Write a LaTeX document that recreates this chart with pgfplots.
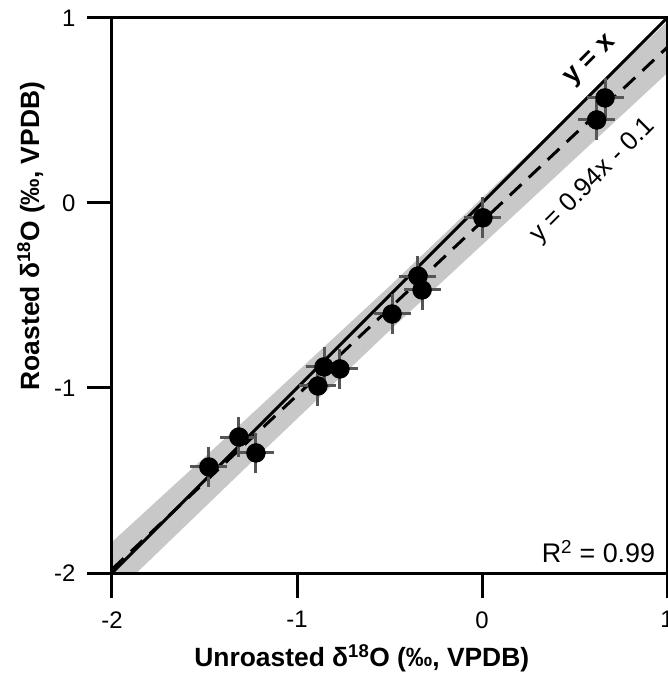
\documentclass[border=0pt]{standalone}
\usepackage{fontspec}
\setmainfont{Liberation Sans}
\usepackage{pgfplots}
\pgfplotsset{compat=1.18}

\definecolor{band}{RGB}{200,200,200}
\definecolor{errgray}{RGB}{85,85,85}

\pgfplotstableread{
x y
-1.476 -1.427
-1.314 -1.265
-1.222 -1.351
-0.887 -0.989
-0.854 -0.886
-0.768 -0.897
-0.486 -0.600
-0.346 -0.395
-0.324 -0.470
0.005 -0.080
0.620 0.449
0.665 0.568
}\samples

\begin{document}
\begin{tikzpicture}
\path[use as bounding box] (-112bp,-101bp) rectangle (556bp,573bp);
\begin{axis}[
    scale only axis,
    width=555bp, height=555bp,
    xmin=-2, xmax=1, ymin=-2, ymax=1,
    xtick={-2,-1,0,1}, ytick={-2,-1,0,1},
    xtick pos=left, ytick pos=left,
    tick align=outside,
    major tick length=25bp,
    axis line style={line width=3bp},
    every tick/.style={line width=3bp, black},
    axis on top,
    /pgf/number format/assume math mode=true,
    tick label style={font=\fontsize{24}{27}\selectfont},
    xticklabel style={yshift=-10bp},
    yticklabel style={xshift=-8bp},
    xlabel={\textbf{Unroasted δ\textsuperscript{18}O (‰, VPDB)}},
    ylabel={\textbf{Roasted δ\textsuperscript{18}O (‰, VPDB)}},
    label style={font=\fontsize{26.5}{29}\selectfont},
    xlabel style={at={(axis description cs:0.45,-0.153)}, anchor=center},
    ylabel style={at={(axis description cs:-0.146,0.607)}, anchor=center},
]
% confidence band of the fit
\addplot[draw=none, fill=band] coordinates {
  (-2.1,-2.224) (-1.25,-1.405) (-0.5,-0.69) (0.25,0.005) (1.1,0.794)
  (1.1,1.074) (0.25,0.265) (-0.5,-0.45) (-1.25,-1.145) (-2.1,-1.924)
} --cycle;
% y = x
\addplot[black, line width=3bp] coordinates {(-2,-2) (1,1)};
% fit y = 0.94x - 0.1
\addplot[black, line width=3bp, dash pattern=on 16bp off 10bp] coordinates {(-2,-1.98) (1,0.84)};
% samples with error bars
\addplot[only marks, mark=*, mark size=9.5bp, mark options={fill=black, draw=black},
    error bars/.cd, x dir=both, y dir=both, x fixed=0.1, y fixed=0.11,
    error mark=none, error bar style={line width=3bp, errgray}]
  table[x=x, y=y] {\samples};
\node[rotate=45, font=\fontsize{27}{30}\selectfont\bfseries] at (axis cs:0.59,0.765) {y = x};
\node[rotate=45, font=\fontsize{26}{29}\selectfont] at (axis cs:0.60,0.12) {y = 0.94x - 0.1};
\node[anchor=east, font=\fontsize{27}{30}\selectfont] at (axis cs:0.955,-1.886) {R\textsuperscript{2} = 0.99};
\end{axis}
\end{tikzpicture}
\end{document}
